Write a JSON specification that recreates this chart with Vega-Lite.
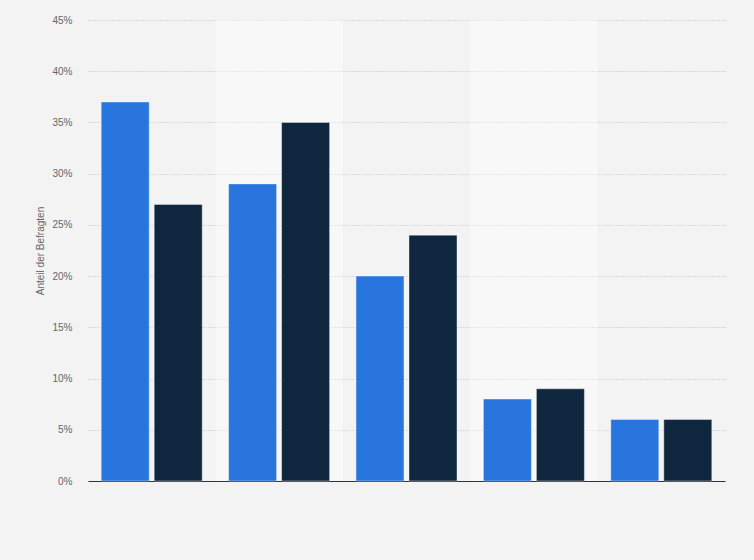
{
  "$schema": "https://vega.github.io/schema/vega-lite/v6.json",
  "width": 637,
  "height": 461,
  "autosize": {"type": "none"},
  "padding": {"left": 88, "top": 20, "right": 29, "bottom": 79},
  "background": "#f3f3f3",
  "config": {
    "view": {"stroke": null},
    "font": "Liberation Sans"
  },
  "datasets": {
    "bands": [
      {"kategorie": "Kategorie 1", "bandfarbe": "dunkel", "top": 45},
      {"kategorie": "Kategorie 2", "bandfarbe": "hell", "top": 45},
      {"kategorie": "Kategorie 3", "bandfarbe": "dunkel", "top": 45},
      {"kategorie": "Kategorie 4", "bandfarbe": "hell", "top": 45},
      {"kategorie": "Kategorie 5", "bandfarbe": "dunkel", "top": 45}
    ],
    "werte": [
      {"kategorie": "Kategorie 1", "serie": "Serie 1", "anteil": 37},
      {"kategorie": "Kategorie 1", "serie": "Serie 2", "anteil": 27},
      {"kategorie": "Kategorie 2", "serie": "Serie 1", "anteil": 29},
      {"kategorie": "Kategorie 2", "serie": "Serie 2", "anteil": 35},
      {"kategorie": "Kategorie 3", "serie": "Serie 1", "anteil": 20},
      {"kategorie": "Kategorie 3", "serie": "Serie 2", "anteil": 24},
      {"kategorie": "Kategorie 4", "serie": "Serie 1", "anteil": 8},
      {"kategorie": "Kategorie 4", "serie": "Serie 2", "anteil": 9},
      {"kategorie": "Kategorie 5", "serie": "Serie 1", "anteil": 6},
      {"kategorie": "Kategorie 5", "serie": "Serie 2", "anteil": 6}
    ]
  },
  "encoding": {
    "x": {
      "field": "kategorie",
      "type": "nominal",
      "sort": null,
      "scale": {"paddingInner": 0, "paddingOuter": 0},
      "axis": {
        "title": null,
        "labels": false,
        "ticks": false,
        "domain": true,
        "domainColor": "#333333",
        "domainWidth": 1
      }
    }
  },
  "resolve": {"scale": {"fill": "independent"}},
  "layer": [
    {
      "data": {"name": "bands"},
      "mark": {"type": "bar", "width": {"band": 1}, "fillOpacity": 0.4},
      "encoding": {
        "y": {
          "field": "top",
          "type": "quantitative",
          "scale": {"domain": [0, 45]}
        },
        "fill": {
          "field": "bandfarbe",
          "type": "nominal",
          "scale": {"domain": ["dunkel", "hell"], "range": ["#f3f3f3", "#ffffff"]},
          "legend": null
        },
        "opacity": {
          "field": "bandfarbe",
          "type": "nominal",
          "scale": {"domain": ["dunkel", "hell"], "range": [0, 1]},
          "legend": null
        }
      }
    },
    {
      "data": {"name": "werte"},
      "mark": {"type": "bar", "stroke": "#ffffff", "strokeOpacity": 0.5, "strokeWidth": 0.8},
      "encoding": {
        "xOffset": {
          "field": "serie",
          "type": "nominal",
          "scale": {"paddingInner": 0.094, "paddingOuter": 0.249}
        },
        "y": {
          "field": "anteil",
          "type": "quantitative",
          "scale": {"domain": [0, 45]},
          "axis": {
            "title": "Anteil der Befragten",
            "titleFontSize": 10,
            "titleFontWeight": "normal",
            "titleColor": "#666666",
            "titlePadding": 6,
            "values": [0, 5, 10, 15, 20, 25, 30, 35, 40, 45],
            "labelExpr": "datum.value + '%'",
            "labelFontSize": 10,
            "labelColor": "#666666",
            "labelPadding": 16,
            "ticks": false,
            "domain": false,
            "grid": true,
            "gridColor": "#bdbdbd",
            "gridDash": [1, 2],
            "gridWidth": 1
          }
        },
        "fill": {
          "field": "serie",
          "type": "nominal",
          "scale": {"domain": ["Serie 1", "Serie 2"], "range": ["#2876dd", "#0f273e"]},
          "legend": null
        }
      }
    }
  ]
}
